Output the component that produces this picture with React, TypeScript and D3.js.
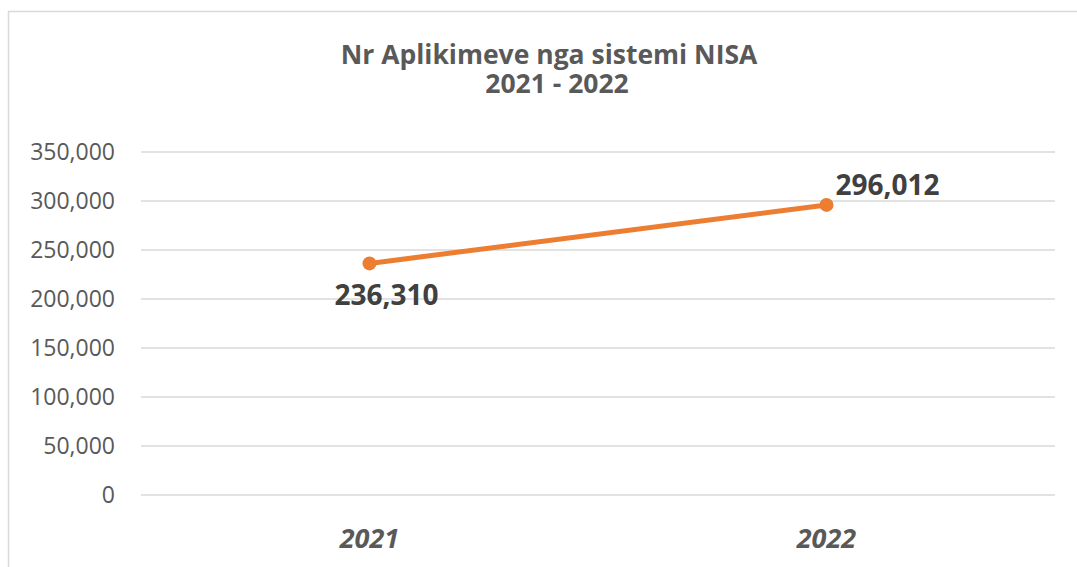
import React, { useEffect, useRef } from 'react';
import * as d3 from 'd3';

const years = ['2021', '2022'];
const applications = [236310, 296012];
const yTicks = [0, 50000, 100000, 150000, 200000, 250000, 300000, 350000];
const titleLines = ['Nr Aplikimeve nga sistemi NISA', '2021 - 2022'];

const FONT = '"Open Sans", "Noto Sans", sans-serif';

const App = () => {
  const svgRef = useRef<SVGSVGElement>(null);

  useEffect(() => {
    const width = 1077;
    const height = 567;
    const margin = { top: 152, right: 22, bottom: 72, left: 141 };

    const svg = d3.select(svgRef.current);
    svg.selectAll('*').remove();
    svg.attr('width', width).attr('height', height);

    // chart frame (right and bottom edges fall outside the picture)
    svg.append('rect')
      .attr('x', 8.5)
      .attr('y', 11.5)
      .attr('width', 1100)
      .attr('height', 600)
      .style('fill', '#fff')
      .style('stroke', '#d9d9d9')
      .style('stroke-width', '1.5px');

    // title, one text element with two lines
    const titlePos = [
      { x: 549, y: 64 },
      { x: 557, y: 93 },
    ];
    svg.append('text')
      .attr('text-anchor', 'middle')
      .style('font-family', FONT)
      .style('font-size', '26.5px')
      .style('font-weight', '700')
      .style('fill', '#595959')
      .selectAll('tspan')
      .data(titleLines)
      .join('tspan')
      .attr('x', (_, i) => titlePos[i].x)
      .attr('y', (_, i) => titlePos[i].y)
      .text(d => d);

    const x = d3.scaleBand()
      .domain(years)
      .range([margin.left, width - margin.right]);

    const y = d3.scaleLinear()
      .domain([0, 350000])
      .range([height - margin.bottom, margin.top]);

    // grid lines
    svg.append('g')
      .selectAll('line')
      .data(yTicks)
      .join('line')
      .attr('x1', margin.left)
      .attr('x2', width - margin.right)
      .attr('y1', d => y(d))
      .attr('y2', d => y(d))
      .style('stroke', '#d9d9d9')
      .style('stroke-width', '1.5px');

    // y labels
    svg.append('g')
      .selectAll('text')
      .data(yTicks)
      .join('text')
      .attr('x', 115)
      .attr('y', d => y(d))
      .attr('dy', '0.36em')
      .attr('text-anchor', 'end')
      .style('font-family', FONT)
      .style('font-size', '23px')
      .style('fill', '#595959')
      .text(d => d3.format(',')(d));

    // x labels
    svg.append('g')
      .selectAll('text')
      .data(years)
      .join('text')
      .attr('x', d => (x(d) ?? 0) + x.bandwidth() / 2)
      .attr('y', 548)
      .attr('text-anchor', 'middle')
      .style('font-family', FONT)
      .style('font-size', '27px')
      .style('font-weight', '700')
      .style('font-style', 'italic')
      .style('fill', '#595959')
      .text(d => d);

    const cx = (i: number) => (x(years[i]) ?? 0) + x.bandwidth() / 2;

    const line = d3.line<number>()
      .x((_, i) => cx(i))
      .y(d => y(d));

    svg.append('path')
      .datum(applications)
      .attr('d', line)
      .style('fill', 'none')
      .style('stroke', '#ED7D31')
      .style('stroke-width', '5px')
      .style('stroke-linecap', 'round');

    svg.append('g')
      .selectAll('circle')
      .data(applications)
      .join('circle')
      .attr('cx', (_, i) => cx(i))
      .attr('cy', d => y(d))
      .attr('r', 7)
      .style('fill', '#ED7D31');

    // data labels: first one below-right of the point, second above-right
    const labelOffsets = [
      { dx: -35, dy: 42 },
      { dx: 9, dy: -10 },
    ];
    svg.append('g')
      .selectAll('text')
      .data(applications)
      .join('text')
      .attr('x', (_, i) => cx(i) + labelOffsets[i].dx)
      .attr('y', (d, i) => y(d) + labelOffsets[i].dy)
      .style('font-family', FONT)
      .style('font-size', '28px')
      .style('font-weight', '700')
      .style('fill', '#404040')
      .text(d => d3.format(',')(d));
  }, []);

  return <svg ref={svgRef} style={{ position: 'absolute', left: 0, top: 0 }}></svg>;
};

export default App;
